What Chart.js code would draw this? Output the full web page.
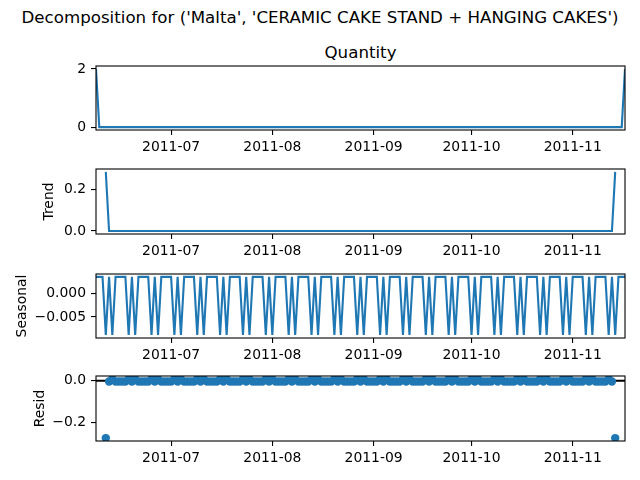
<!DOCTYPE html>
<html>
<head>
<meta charset="utf-8">
<script src="https://cdn.jsdelivr.net/npm/chart.js@4.4.1/dist/chart.umd.min.js"></script>
<style>
  body { margin: 0; background: #fff; }
  #fig { position: relative; width: 640px; height: 480px; font-family: 'DejaVu Sans', sans-serif; color: #000; }
  #fig canvas { position: absolute; left: 0; }
  .txt { position: absolute; white-space: nowrap; transform: translate(-50%, -50%); font-size: 16.67px; }
</style>
</head>
<body>
<div id="fig">
  <div class="txt" style="left:320px; top:17px;">Decomposition for ('Malta', 'CERAMIC CAKE STAND + HANGING CAKES')</div>
  <div class="txt" style="left:360.5px; top:52px;">Quantity</div>
  <canvas id="c1"></canvas>
  <canvas id="c2"></canvas>
  <canvas id="c3"></canvas>
  <canvas id="c4"></canvas>
</div>
<script>
// daily series, first day below, one value per day (rows of 7 = one week)
const startDate = '2011-06-08';
const monthTicks = ['2011-07', '2011-08', '2011-09', '2011-10', '2011-11'];

const quantity = [
  2, 0, 0, 0, 0, 0, 0,
  0, 0, 0, 0, 0, 0, 0,
  0, 0, 0, 0, 0, 0, 0,
  0, 0, 0, 0, 0, 0, 0,
  0, 0, 0, 0, 0, 0, 0,
  0, 0, 0, 0, 0, 0, 0,
  0, 0, 0, 0, 0, 0, 0,
  0, 0, 0, 0, 0, 0, 0,
  0, 0, 0, 0, 0, 0, 0,
  0, 0, 0, 0, 0, 0, 0,
  0, 0, 0, 0, 0, 0, 0,
  0, 0, 0, 0, 0, 0, 0,
  0, 0, 0, 0, 0, 0, 0,
  0, 0, 0, 0, 0, 0, 0,
  0, 0, 0, 0, 0, 0, 0,
  0, 0, 0, 0, 0, 0, 0,
  0, 0, 0, 0, 0, 0, 0,
  0, 0, 0, 0, 0, 0, 0,
  0, 0, 0, 0, 0, 0, 0,
  0, 0, 0, 0, 0, 0, 0,
  0, 0, 0, 0, 0, 0, 0,
  0, 0, 0, 0, 0, 0, 0,
  0, 0, 0, 0, 0, 0, 0,
  0, 2
];

const trend = [
  null, null, null, 0.286, 0, 0, 0,
  0, 0, 0, 0, 0, 0, 0,
  0, 0, 0, 0, 0, 0, 0,
  0, 0, 0, 0, 0, 0, 0,
  0, 0, 0, 0, 0, 0, 0,
  0, 0, 0, 0, 0, 0, 0,
  0, 0, 0, 0, 0, 0, 0,
  0, 0, 0, 0, 0, 0, 0,
  0, 0, 0, 0, 0, 0, 0,
  0, 0, 0, 0, 0, 0, 0,
  0, 0, 0, 0, 0, 0, 0,
  0, 0, 0, 0, 0, 0, 0,
  0, 0, 0, 0, 0, 0, 0,
  0, 0, 0, 0, 0, 0, 0,
  0, 0, 0, 0, 0, 0, 0,
  0, 0, 0, 0, 0, 0, 0,
  0, 0, 0, 0, 0, 0, 0,
  0, 0, 0, 0, 0, 0, 0,
  0, 0, 0, 0, 0, 0, 0,
  0, 0, 0, 0, 0, 0, 0,
  0, 0, 0, 0, 0, 0, 0,
  0, 0, 0, 0, 0, 0, 0,
  0, 0, 0, 0, 0, 0.286, null,
  null, null
];

const seasonal = [
  0.00355, 0.00355, 0.00355, -0.00887, 0.00355, -0.00887, 0.00355,
  0.00355, 0.00355, 0.00355, -0.00887, 0.00355, -0.00887, 0.00355,
  0.00355, 0.00355, 0.00355, -0.00887, 0.00355, -0.00887, 0.00355,
  0.00355, 0.00355, 0.00355, -0.00887, 0.00355, -0.00887, 0.00355,
  0.00355, 0.00355, 0.00355, -0.00887, 0.00355, -0.00887, 0.00355,
  0.00355, 0.00355, 0.00355, -0.00887, 0.00355, -0.00887, 0.00355,
  0.00355, 0.00355, 0.00355, -0.00887, 0.00355, -0.00887, 0.00355,
  0.00355, 0.00355, 0.00355, -0.00887, 0.00355, -0.00887, 0.00355,
  0.00355, 0.00355, 0.00355, -0.00887, 0.00355, -0.00887, 0.00355,
  0.00355, 0.00355, 0.00355, -0.00887, 0.00355, -0.00887, 0.00355,
  0.00355, 0.00355, 0.00355, -0.00887, 0.00355, -0.00887, 0.00355,
  0.00355, 0.00355, 0.00355, -0.00887, 0.00355, -0.00887, 0.00355,
  0.00355, 0.00355, 0.00355, -0.00887, 0.00355, -0.00887, 0.00355,
  0.00355, 0.00355, 0.00355, -0.00887, 0.00355, -0.00887, 0.00355,
  0.00355, 0.00355, 0.00355, -0.00887, 0.00355, -0.00887, 0.00355,
  0.00355, 0.00355, 0.00355, -0.00887, 0.00355, -0.00887, 0.00355,
  0.00355, 0.00355, 0.00355, -0.00887, 0.00355, -0.00887, 0.00355,
  0.00355, 0.00355, 0.00355, -0.00887, 0.00355, -0.00887, 0.00355,
  0.00355, 0.00355, 0.00355, -0.00887, 0.00355, -0.00887, 0.00355,
  0.00355, 0.00355, 0.00355, -0.00887, 0.00355, -0.00887, 0.00355,
  0.00355, 0.00355, 0.00355, -0.00887, 0.00355, -0.00887, 0.00355,
  0.00355, 0.00355, 0.00355, -0.00887, 0.00355, -0.00887, 0.00355,
  0.00355, 0.00355, 0.00355, -0.00887, 0.00355, -0.00887, 0.00355,
  0.00355, 0.00355
];

const resid = [
  null, null, null, -0.277, -0.00355, 0.00887, -0.00355,
  -0.00355, -0.00355, -0.00355, 0.00887, -0.00355, 0.00887, -0.00355,
  -0.00355, -0.00355, -0.00355, 0.00887, -0.00355, 0.00887, -0.00355,
  -0.00355, -0.00355, -0.00355, 0.00887, -0.00355, 0.00887, -0.00355,
  -0.00355, -0.00355, -0.00355, 0.00887, -0.00355, 0.00887, -0.00355,
  -0.00355, -0.00355, -0.00355, 0.00887, -0.00355, 0.00887, -0.00355,
  -0.00355, -0.00355, -0.00355, 0.00887, -0.00355, 0.00887, -0.00355,
  -0.00355, -0.00355, -0.00355, 0.00887, -0.00355, 0.00887, -0.00355,
  -0.00355, -0.00355, -0.00355, 0.00887, -0.00355, 0.00887, -0.00355,
  -0.00355, -0.00355, -0.00355, 0.00887, -0.00355, 0.00887, -0.00355,
  -0.00355, -0.00355, -0.00355, 0.00887, -0.00355, 0.00887, -0.00355,
  -0.00355, -0.00355, -0.00355, 0.00887, -0.00355, 0.00887, -0.00355,
  -0.00355, -0.00355, -0.00355, 0.00887, -0.00355, 0.00887, -0.00355,
  -0.00355, -0.00355, -0.00355, 0.00887, -0.00355, 0.00887, -0.00355,
  -0.00355, -0.00355, -0.00355, 0.00887, -0.00355, 0.00887, -0.00355,
  -0.00355, -0.00355, -0.00355, 0.00887, -0.00355, 0.00887, -0.00355,
  -0.00355, -0.00355, -0.00355, 0.00887, -0.00355, 0.00887, -0.00355,
  -0.00355, -0.00355, -0.00355, 0.00887, -0.00355, 0.00887, -0.00355,
  -0.00355, -0.00355, -0.00355, 0.00887, -0.00355, 0.00887, -0.00355,
  -0.00355, -0.00355, -0.00355, 0.00887, -0.00355, 0.00887, -0.00355,
  -0.00355, -0.00355, -0.00355, 0.00887, -0.00355, 0.00887, -0.00355,
  -0.00355, -0.00355, -0.00355, 0.00887, -0.00355, 0.00887, -0.00355,
  -0.00355, -0.00355, -0.00355, 0.00887, -0.00355, -0.277, null,
  null, null
];

const DAY = 86400000;
const t0 = Date.parse(startDate + 'T00:00:00Z');
const dayOf = s => Math.round((Date.parse(s + 'T00:00:00Z') - t0) / DAY);
const tickDays = monthTicks.map(m => dayOf(m + '-01'));
const lastDay = quantity.length - 1;

const BLUE = '#1f77b4';
Chart.defaults.font.family = "'DejaVu Sans', sans-serif";
Chart.defaults.font.size = 13.9;
Chart.defaults.color = '#000';

// frame on all four sides + rotated y label, like matplotlib spines
const framePlugin = {
    id: 'frame',
    afterDraw(chart, args, opts) {
        const { ctx, chartArea: a } = chart;
        ctx.save();
        ctx.strokeStyle = '#000';
        ctx.lineWidth = 1.1;
        ctx.strokeRect(a.left, a.top, a.right - a.left, a.bottom - a.top);
        if (opts.label) {
            ctx.translate(opts.x, (a.top + a.bottom) / 2);
            ctx.rotate(-Math.PI / 2);
            ctx.textAlign = 'center';
            ctx.textBaseline = 'middle';
            ctx.fillStyle = '#000';
            ctx.font = "13.9px 'DejaVu Sans', sans-serif";
            ctx.fillText(opts.label, 0, 0);
        }
        ctx.restore();
    }
};

const PAD_TOP = 20, X_AXIS_H = 30, PLOT_LEFT = 96, PLOT_RIGHT = 625;

function fmt(v, dec) {
    const s = Math.abs(v).toFixed(dec);
    return (v < -1e-12 ? '\u2212' : '') + s;
}

function toPoints(arr) {
    return arr.map((y, i) => ({ x: i, y: y }));
}

function makePanel(p) {
    const canvas = document.getElementById(p.id);
    const h = PAD_TOP + (p.bottom - p.top) + X_AXIS_H;
    canvas.width = 640;
    canvas.height = h;
    canvas.style.top = (p.top - PAD_TOP) + 'px';

    const datasets = [];
    if (p.scatter) {
        datasets.push({
            data: toPoints(p.values),
            showLine: false,
            pointRadius: 4.2,
            pointBackgroundColor: BLUE,
            pointBorderWidth: 0
        });
        datasets.push({
            data: [{ x: 0, y: 0 }, { x: lastDay, y: 0 }],
            borderColor: '#000',
            borderWidth: 2,
            pointRadius: 0
        });
    } else {
        datasets.push({
            data: toPoints(p.values),
            borderColor: BLUE,
            borderWidth: 2.1,
            pointRadius: 0,
            tension: 0,
            spanGaps: false
        });
    }

    return new Chart(canvas, {
        type: 'line',
        data: { datasets: datasets },
        options: {
            responsive: false,
            animation: false,
            devicePixelRatio: 1,
            layout: { padding: { left: 0, right: 640 - PLOT_RIGHT, top: PAD_TOP, bottom: 0 } },
            plugins: {
                legend: { display: false },
                tooltip: { enabled: false },
                frame: { label: p.label, x: p.labelX }
            },
            scales: {
                x: {
                    type: 'linear',
                    min: 0,
                    max: lastDay,
                    border: { display: false },
                    grid: { drawOnChartArea: false, drawTicks: true, tickLength: 5, color: '#000', lineWidth: 1.1 },
                    ticks: {
                        autoSkip: false,
                        maxRotation: 0,
                        padding: 4,
                        callback: v => monthTicks[tickDays.indexOf(v)]
                    },
                    afterBuildTicks: s => { s.ticks = tickDays.map(v => ({ value: v })); },
                    afterFit: s => { s.height = X_AXIS_H; }
                },
                y: {
                    min: p.yMin,
                    max: p.yMax,
                    border: { display: false },
                    grid: { drawOnChartArea: false, drawTicks: true, tickLength: 5, color: '#000', lineWidth: 1.1 },
                    ticks: {
                        padding: 5,
                        callback: v => fmt(v, p.dec)
                    },
                    afterBuildTicks: s => { s.ticks = p.yTicks.map(v => ({ value: v })); },
                    afterFit: s => { s.width = PLOT_LEFT; }
                }
            }
        },
        plugins: [framePlugin]
    });
}

const panels = [
    { id: 'c1', top: 66, bottom: 130, values: quantity, yMin: -0.1, yMax: 2.1, yTicks: [0, 2], dec: 0 },
    { id: 'c2', top: 169, bottom: 234, values: trend, yMin: -0.0143, yMax: 0.3, yTicks: [0, 0.2], dec: 1, label: 'Trend', labelX: 49.5 },
    { id: 'c3', top: 274, bottom: 338, values: seasonal, yMin: -0.0095, yMax: 0.00417, yTicks: [-0.005, 0], dec: 3, label: 'Seasonal', labelX: 22 },
    { id: 'c4', top: 376, bottom: 441, values: resid, scatter: true, yMin: -0.2911, yMax: 0.0232, yTicks: [-0.2, 0], dec: 1, label: 'Resid', labelX: 40 }
];

panels.forEach(makePanel);
</script>
</body>
</html>
